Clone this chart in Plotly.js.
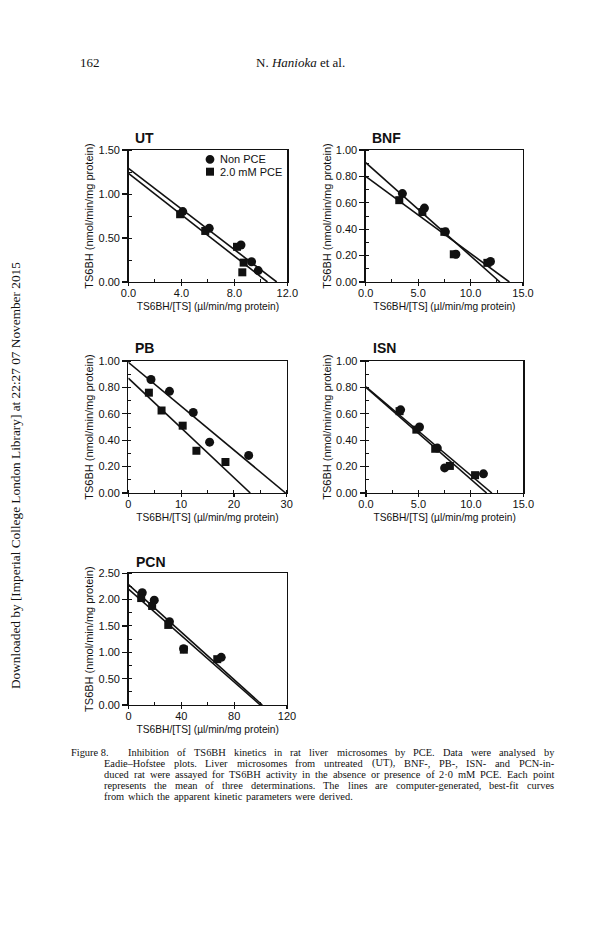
<!DOCTYPE html>
<html>
<head>
<meta charset="utf-8">
<script src="https://cdn.plot.ly/plotly-3.0.1.min.js"></script>
<style>html,body{margin:0;padding:0;background:#fff;}#chart{width:615px;height:944px;}</style>
</head>
<body>
<div id="chart"></div>
<script>
// ---------- DATA ----------
const panels = ["UT", "BNF", "PB", "ISN", "PCN"];
const seriesNames = ["Non PCE", "2.0 mM PCE"];

// UT
const UT_nonX = [4.1, 6.1, 8.5, 9.3, 9.8];
const UT_nonY = [0.80, 0.61, 0.42, 0.23, 0.13];
const UT_pceX = [3.9, 5.8, 8.2, 8.7, 8.6];
const UT_pceY = [0.77, 0.58, 0.40, 0.22, 0.11];
const UT_fitYint = [1.29, 1.235];   // [Non PCE, PCE]
const UT_fitXint = [11.2, 10.5];

// BNF
const BNF_nonX = [3.5, 5.6, 7.6, 8.6, 11.9];
const BNF_nonY = [0.67, 0.56, 0.38, 0.21, 0.155];
const BNF_pceX = [3.2, 5.4, 7.5, 8.4, 11.6];
const BNF_pceY = [0.62, 0.53, 0.38, 0.21, 0.145];
const BNF_fitYint = [0.905, 0.80];
const BNF_fitXint = [12.8, 13.7];

// PB
const PB_nonX = [4.3, 7.8, 12.3, 15.4, 22.8];
const PB_nonY = [0.86, 0.77, 0.61, 0.385, 0.285];
const PB_pceX = [3.9, 6.3, 10.3, 12.9, 18.4];
const PB_pceY = [0.76, 0.625, 0.51, 0.32, 0.235];
const PB_fitYint = [0.99, 0.87];
const PB_fitXint = [29.8, 23.1];

// ISN
const ISN_nonX = [3.3, 5.1, 6.8, 7.5, 11.2];
const ISN_nonY = [0.63, 0.50, 0.34, 0.19, 0.145];
const ISN_pceX = [3.2, 4.8, 6.6, 8.0, 10.4];
const ISN_pceY = [0.62, 0.48, 0.335, 0.205, 0.135];
const ISN_fitYint = [0.805, 0.80];
const ISN_fitXint = [12.0, 11.5];

// PCN
const PCN_nonX = [10.4, 19.5, 31.0, 41.7, 70.2];
const PCN_nonY = [2.13, 1.99, 1.58, 1.07, 0.905];
const PCN_pceX = [9.6, 17.9, 30.1, 41.9, 67.2];
const PCN_pceY = [2.03, 1.88, 1.52, 1.05, 0.87];
const PCN_fitYint = [2.285, 2.20];
const PCN_fitXint = [101.3, 99.8];

// Axis ranges / ticks
const xRanges = [[0, 12], [0, 15], [0, 30], [0, 15], [0, 120]];
const yRanges = [[0, 1.5], [0, 1.0], [0, 1.0], [0, 1.0], [0, 2.5]];
const xTickVals = [[0, 4, 8, 12], [0, 5, 10, 15], [0, 10, 20, 30], [0, 5, 10, 15], [0, 40, 80, 120]];
const xTickText = [["0.0", "4.0", "8.0", "12.0"], ["0.0", "5.0", "10.0", "15.0"], ["0", "10", "20", "30"], ["0.0", "5.0", "10.0", "15.0"], ["0", "40", "80", "120"]];
const yTickVals = [[0, 0.5, 1.0, 1.5], [0, 0.2, 0.4, 0.6, 0.8, 1.0], [0, 0.2, 0.4, 0.6, 0.8, 1.0], [0, 0.2, 0.4, 0.6, 0.8, 1.0], [0, 0.5, 1.0, 1.5, 2.0, 2.5]];
const yTickText = [["0.00", "0.50", "1.00", "1.50"], ["0.00", "0.20", "0.40", "0.60", "0.80", "1.00"], ["0.00", "0.20", "0.40", "0.60", "0.80", "1.00"], ["0.00", "0.20", "0.40", "0.60", "0.80", "1.00"], ["0.00", "0.50", "1.00", "1.50", "2.00", "2.50"]];
const xMinor = [2, 2.5, 5, 2.5, 20];
const yMinor = [0.25, 0.1, 0.1, 0.1, 0.25];

const xTitle = "TS6BH/[TS] (µl/min/mg protein)";
const yTitle = "TS6BH (nmol/min/mg protein)";

const captionLabel = "Figure 8.";
const captionLines = [
  "Inhibition of TS6BH kinetics in rat liver microsomes by PCE. Data were analysed by",
  "Eadie–Hofstee plots. Liver microsomes from untreated (UT), BNF-, PB-, ISN- and PCN-in-",
  "duced rat were assayed for TS6BH activity in the absence or presence of 2·0 mM PCE. Each point",
  "represents the mean of three determinations. The lines are computer-generated, best-fit curves",
  "from which the apparent kinetic parameters were derived."
];

// ---------- LAYOUT HELPERS ----------
const W = 615, H = 944;
const px = v => v / W;
const py = v => 1 - v / H;
const INK = "#111111";
const SANS = "Liberation Sans, Arial, sans-serif";
const SERIF = "Liberation Serif, Times New Roman, serif";

// frame boxes in px [left, right, top, bottom]
const boxes = [
  [128.5, 287.3, 150, 282],
  [365.7, 523.0, 150, 282],
  [128.3, 286.7, 361, 493],
  [366.0, 523.3, 361, 493],
  [128.5, 287.0, 573.3, 705]
];

const nonX = [UT_nonX, BNF_nonX, PB_nonX, ISN_nonX, PCN_nonX];
const nonY = [UT_nonY, BNF_nonY, PB_nonY, ISN_nonY, PCN_nonY];
const pceX = [UT_pceX, BNF_pceX, PB_pceX, ISN_pceX, PCN_pceX];
const pceY = [UT_pceY, BNF_pceY, PB_pceY, ISN_pceY, PCN_pceY];
const fitY = [UT_fitYint, BNF_fitYint, PB_fitYint, ISN_fitYint, PCN_fitYint];
const fitX = [UT_fitXint, BNF_fitXint, PB_fitXint, ISN_fitXint, PCN_fitXint];

const traces = [];
const layout = {
  width: W, height: H,
  margin: {l: 0, r: 0, t: 0, b: 0},
  paper_bgcolor: "#ffffff",
  plot_bgcolor: "#ffffff",
  showlegend: false,
  font: {family: SANS, color: INK},
  annotations: [],
  shapes: []
};

panels.forEach((name, i) => {
  const n = i === 0 ? "" : String(i + 1);
  const xa = "x" + n, ya = "y" + n;
  const b = boxes[i];
  for (let s = 0; s < 2; s++) {
    traces.push({
      type: "scatter", mode: "lines", xaxis: xa, yaxis: ya,
      x: [0, fitX[i][s]], y: [fitY[i][s], 0],
      line: {color: INK, width: 1.6},
      hoverinfo: "skip", showlegend: false
    });
  }
  traces.push({
    type: "scatter", mode: "markers", xaxis: xa, yaxis: ya, name: seriesNames[0],
    x: nonX[i], y: nonY[i], cliponaxis: false,
    marker: {symbol: "circle", size: 9, color: INK}
  });
  traces.push({
    type: "scatter", mode: "markers", xaxis: xa, yaxis: ya, name: seriesNames[1],
    x: pceX[i], y: pceY[i], cliponaxis: false,
    marker: {symbol: "square", size: 8, color: INK}
  });

  layout["xaxis" + n] = {
    domain: [px(b[0]), px(b[1])],
    anchor: ya, range: xRanges[i],
    tickmode: "array", tickvals: xTickVals[i], ticktext: xTickText[i],
    ticks: "outside", ticklen: 3, tickwidth: 1.2, tickcolor: INK,
    ticklabelstandoff: -3,
    minor: {dtick: xMinor[i], ticks: "inside", ticklen: 3, tickwidth: 1, tickcolor: INK, showgrid: false},
    showline: true, mirror: true, linecolor: INK, linewidth: 1.3,
    showgrid: false, zeroline: false,
    tickfont: {family: SANS, size: 11, color: INK},
    title: {text: xTitle, font: {family: SANS, size: 10.2, color: INK}, standoff: 5},
    automargin: false
  };
  layout["yaxis" + n] = {
    domain: [py(b[3]), py(b[2])],
    anchor: xa, range: yRanges[i],
    tickmode: "array", tickvals: yTickVals[i], ticktext: yTickText[i],
    ticks: "outside", ticklen: 5, tickwidth: 1.2, tickcolor: INK,
    minor: {dtick: yMinor[i], ticks: "inside", ticklen: 3, tickwidth: 1, tickcolor: INK, showgrid: false},
    showline: true, mirror: true, linecolor: INK, linewidth: 1.3,
    showgrid: false, zeroline: false,
    tickfont: {family: SANS, size: 11, color: INK},
    title: {text: yTitle, font: {family: SANS, size: 11, color: INK}, standoff: 2},
    automargin: false
  };
});

// panel titles
const titlePos = [[133, 137.5], [370, 137.5], [133.3, 347.5], [371, 348.5], [134.3, 562]];
panels.forEach((name, i) => {
  layout.annotations.push({
    xref: "paper", yref: "paper", x: px(titlePos[i][0]), y: py(titlePos[i][1]),
    xanchor: "left", yanchor: "middle", showarrow: false,
    text: "<b>" + name + "</b>", font: {family: SANS, size: 14, color: INK}
  });
});

// legend (UT panel)
const legY = [159.3, 171.7];
layout.shapes.push({type: "circle", xref: "paper", yref: "paper",
  x0: px(205.6), x1: px(214.4), y0: py(163.7), y1: py(154.9), fillcolor: INK, line: {width: 0}});
layout.shapes.push({type: "rect", xref: "paper", yref: "paper",
  x0: px(206), x1: px(214), y0: py(175.7), y1: py(167.7), fillcolor: INK, line: {width: 0}});
seriesNames.forEach((s, k) => {
  layout.annotations.push({
    xref: "paper", yref: "paper", x: px(219), y: py(legY[k]),
    xanchor: "left", yanchor: "middle", showarrow: false, borderpad: 0,
    text: s, font: {family: SANS, size: 11, color: INK}
  });
});

// page header
layout.annotations.push({xref: "paper", yref: "paper", x: px(78), y: py(62), xanchor: "left", yanchor: "middle",
  showarrow: false, text: "162", font: {family: SERIF, size: 13, color: INK}});
layout.annotations.push({xref: "paper", yref: "paper", x: px(300), y: py(62), xanchor: "center", yanchor: "middle",
  showarrow: false, text: "N. <i>Hanioka</i> et al.", font: {family: SERIF, size: 13, color: INK}});

// watermark
layout.annotations.push({xref: "paper", yref: "paper", x: px(15), y: py(476), xanchor: "center", yanchor: "middle",
  showarrow: false, textangle: -90,
  text: "Downloaded by [Imperial College London Library] at 22:27 07 November 2015",
  font: {family: SERIF, size: 13.3, color: INK}});

// caption: justified lines, one annotation per word
const CAP_SIZE = 10.4;
const capY = [752.5, 763.4, 774.3, 785.2, 796.1];
const capLeft = [127, 103, 103, 103, 103];
const capRight = 553;
const ctx = document.createElement("canvas").getContext("2d");
ctx.font = CAP_SIZE + "px 'Liberation Serif'";
layout.annotations.push({xref: "paper", yref: "paper", x: px(70), y: py(capY[0]), xanchor: "left", yanchor: "middle",
  showarrow: false, borderpad: 0, text: captionLabel, font: {family: SERIF, size: CAP_SIZE, color: INK}});
captionLines.forEach((t, k) => {
  const words = t.split(" ");
  const widths = words.map(w => ctx.measureText(w).width);
  const total = widths.reduce((a, b) => a + b, 0);
  const last = k === captionLines.length - 1;
  const gap = last ? ctx.measureText(" ").width * 1.5 : (capRight - capLeft[k] - total) / (words.length - 1);
  let xcur = capLeft[k];
  words.forEach((w, j) => {
    layout.annotations.push({xref: "paper", yref: "paper", x: px(xcur), y: py(capY[k]),
      xanchor: "left", yanchor: "middle", showarrow: false, borderpad: 0, text: w,
      font: {family: SERIF, size: CAP_SIZE, color: INK}});
    xcur += widths[j] + gap;
  });
});

Plotly.newPlot("chart", traces, layout, {staticPlot: true, displayModeBar: false});
</script>
</body>
</html>
